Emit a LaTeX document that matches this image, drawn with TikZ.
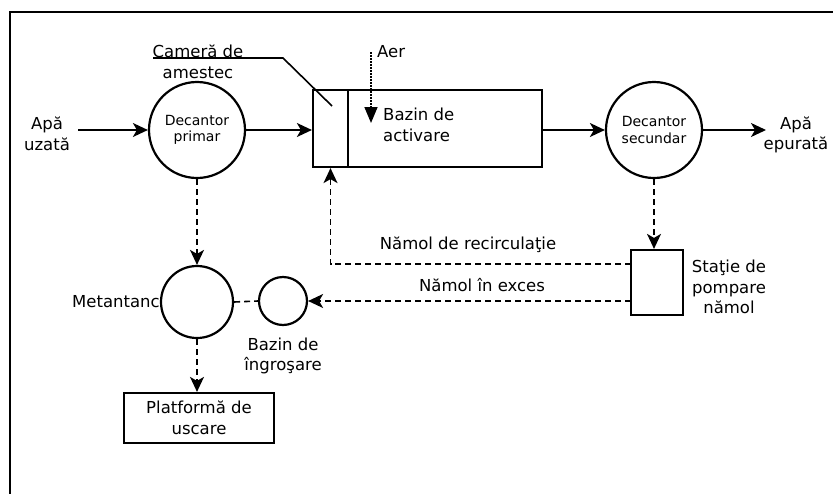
\documentclass[tikz,border=0pt]{standalone}
\usepackage{fontspec}
\setmainfont{DejaVu Sans}
\usetikzlibrary{arrows.meta}
\newlength{\du}
\setlength{\du}{1pt}
\newcommand{\tankfont}{\fontsize{14}{16.5}\selectfont}
\newcommand{\labelfont}{\fontsize{16.5}{20.5}\selectfont}

\begin{document}
\begin{tikzpicture}[
  tank/.style={draw,circle,line width=2.2\du,inner sep=0pt,align=center,font=\tankfont},
  block/.style={draw,rectangle,line width=2.2\du,inner sep=0pt,align=center,font=\labelfont},
  lbl/.style={align=center,inner sep=1\du,font=\labelfont},
  flow/.style={line width=1.6\du,-{Stealth[length=15pt,width=14pt,inset=4pt]}},
  sludge/.style={line width=1.6\du,dash pattern=on 6pt off 4pt},
  sludgeto/.style={sludge,-{Stealth[length=15pt,width=14pt,inset=4pt]}},
  air/.style={line width=1.6\du,dash pattern=on 1.5pt off 1.5pt,
    -{Triangle[length=16pt,width=13pt]}}
]
\pgftransformyscale{-1.000000}
\useasboundingbox (0,0) rectangle (833\du,493\du);
\clip (0,0) rectangle (833\du,493\du);
% frame
\draw[line width=2.2\du] (10\du,510\du) -- (10\du,12\du) -- (850\du,12\du);

% tanks
\node[tank,minimum size=96\du] (decP) at (197\du,130\du) {Decantor\\primar};
\node[tank,minimum size=96\du] (decS) at (654\du,130\du) {Decantor\\secundar};
\node[tank,minimum size=72\du] (metan) at (197\du,302\du) {};
\node[tank,minimum size=48\du] (ingr) at (283\du,301\du) {};
\node[block,minimum width=35\du,minimum height=77\du] (camera) at (330.5\du,128.5\du) {};
\node[block,minimum width=194\du,minimum height=77\du] (bazin) at (445\du,128.5\du) {};
\node[block,minimum width=52\du,minimum height=65\du] (pump) at (657\du,282.5\du) {};
\node[block,minimum width=150\du,minimum height=50\du] (platf) at (199\du,418\du) {Platformă de\\uscare};

% labels
\node[lbl] (inLbl) at (47\du,134\du) {Apă\\uzată};
\node[lbl] (outLbl) at (796\du,135\du) {Apă\\epurată};
\node[lbl,align=left,anchor=west] (bazinLbl) at (382\du,125\du) {Bazin de\\activare};
\node[lbl] (camLbl) at (198\du,62\du) {Cameră de\\amestec};
\node[lbl,anchor=west] (aerLbl) at (376\du,52\du) {Aer};
\node[lbl,anchor=east,inner sep=0pt] (metanLbl) at (metan.west) {Metantanc};
\node[lbl] (ingrLbl) at (283\du,356\du) {Bazin de\\îngroşare};
\node[lbl] (recLbl) at (468\du,245\du) {Nămol de recirculaţie};
\node[lbl] (excLbl) at (482\du,285\du) {Nămol în exces};
\node[lbl] (pumpLbl) at (729\du,287\du) {Staţie de\\pompare\\nămol};

% water line
\coordinate (in) at (78\du,130\du);
\coordinate (out) at (766\du,130\du);
\draw[flow] (in) -- (decP.west);
\draw[flow] (decP.east) -- (decP.east -| camera.west);
\draw[flow] (decS.west -| bazin.east) -- (decS.west);
\draw[flow] (decS.east) -- (out);

% air and leader
\coordinate (aer) at (371\du,52\du);
\coordinate (aerTip) at (371\du,123\du);
\draw[air] (aer) -- (aerTip);
\coordinate (camTip) at (332\du,106\du);
\draw[line width=1.6\du] (153\du,58\du) -- (283\du,58\du) -- (camTip);

% sludge line
\coordinate (recA) at (631\du,264\du);
\coordinate (excA) at (631\du,301\du);
\draw[sludgeto] (decP.south) -- (metan.north);
\draw[sludgeto] (metan.south) -- (metan.south |- platf.north);
\draw[sludge] (metan.east) -- (ingr.west);
\draw[sludgeto] (decS.south) -- (decS.south |- pump.north);
\draw[sludgeto] (recA) -| (camera.south);
\draw[sludgeto] (excA) -- (ingr.east);
\end{tikzpicture}
\end{document}
